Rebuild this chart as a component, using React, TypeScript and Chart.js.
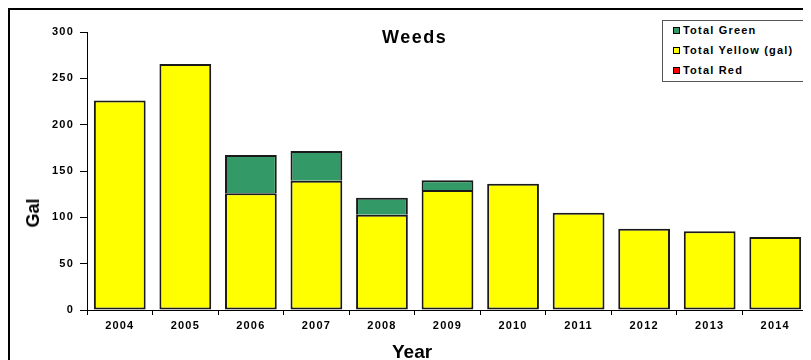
import React, { useEffect, useRef } from "react";
import { Chart, registerables } from "chart.js";

Chart.register(...registerables);

const years = ["2004", "2005", "2006", "2007", "2008", "2009", "2010", "2011", "2012", "2013", "2014"];
const totalYellow = [226, 265.5, 126, 139.5, 102.8, 129.5, 136.3, 105, 87.7, 84.9, 78.8];
const totalGreen: (number | null)[] = [null, null, 41.4, 32.1, 18.4, 10.5, null, null, null, null, null];
const totalRed: (number | null)[] = [null, null, null, null, null, null, null, null, null, null, null];
const yMin = 0;
const yMax = 300;
const yStep = 50;

const FONT = "'Liberation Sans', Arial, sans-serif";
const GREEN = "#339966";
const YELLOW = "#FFFF00";
const RED = "#FF0000";
const EDGE = "#1a1a1a";

const spacingPlugin = {
  id: "spacing",
  beforeDraw(chart: any) {
    (chart.ctx as any).letterSpacing = "1.2px";
  },
};

export default function App() {
  const ref = useRef<HTMLCanvasElement | null>(null);

  useEffect(() => {
    if (!ref.current) return;
    const chart = new Chart(ref.current, {
      type: "bar",
      data: {
        labels: years,
        datasets: [
          {
            label: "Total Yellow (gal)",
            data: totalYellow,
            backgroundColor: YELLOW,
            borderColor: EDGE,
            borderWidth: 2,
            borderSkipped: false,
            stack: "s",
            barPercentage: 0.79,
            categoryPercentage: 1,
          },
          {
            label: "Total Green",
            data: totalGreen,
            backgroundColor: GREEN,
            borderColor: EDGE,
            borderWidth: 2,
            borderSkipped: "bottom",
            stack: "s",
            barPercentage: 0.79,
            categoryPercentage: 1,
          },
          {
            label: "Total Red",
            data: totalRed,
            backgroundColor: RED,
            borderColor: EDGE,
            borderWidth: 0,
            stack: "s",
            barPercentage: 0.79,
            categoryPercentage: 1,
          },
        ],
      },
      options: {
        animation: false,
        responsive: false,
        devicePixelRatio: 1,
        layout: { padding: { left: 0, top: 24, right: 3, bottom: 0 } },
        plugins: {
          legend: { display: false },
          tooltip: { enabled: false },
          title: { display: false },
        },
        scales: {
          x: {
            stacked: true,
            offset: true,
            grid: {
              offset: true,
              drawOnChartArea: false,
              drawTicks: true,
              tickLength: 5,
              color: "#000",
              lineWidth: 1,
            },
            border: { display: true, color: "#000", width: 1 },
            ticks: {
              color: "#000",
              font: { family: FONT, size: 11, weight: "bold" },
              padding: 4,
              maxRotation: 0,
              autoSkip: false,
            },
            afterFit: (s: any) => {
              s.height = 50;
            },
          },
          y: {
            stacked: true,
            min: yMin,
            max: yMax,
            ticks: {
              stepSize: yStep,
              color: "#000",
              font: { family: FONT, size: 11, weight: "bold" },
              padding: 6,
            },
            grid: {
              drawOnChartArea: false,
              drawTicks: true,
              tickLength: 7,
              color: "#000",
              lineWidth: 1,
            },
            border: { display: true, color: "#000", width: 1 },
            afterFit: (s: any) => {
              s.width = 79;
            },
          },
        },
      } as any,
      plugins: [spacingPlugin],
    });
    return () => chart.destroy();
  }, []);

  const legendItems = [
    { label: "Total Green", color: GREEN },
    { label: "Total Yellow (gal)", color: YELLOW },
    { label: "Total Red", color: RED },
  ];

  return (
    <div style={{ position: "relative", width: 803, height: 352, overflow: "hidden", fontFamily: FONT }}>
      <div
        style={{
          position: "absolute",
          left: 0,
          top: 0,
          width: 830,
          height: 380,
          borderLeft: "2px solid #000",
          borderTop: "2px solid #000",
          boxSizing: "border-box",
        }}
      />
      <canvas ref={ref} width={803} height={352} style={{ position: "absolute", left: 0, top: 0, width: 803, height: 352 }} />
      <div
        style={{
          position: "absolute",
          left: 374,
          top: 20,
          fontSize: 18,
          lineHeight: "18px",
          fontWeight: "bold",
          letterSpacing: "1.5px",
          whiteSpace: "nowrap",
          color: "#000",
        }}
      >
        Weeds
      </div>
      <div
        style={{
          position: "absolute",
          left: 384,
          top: 334,
          fontSize: 19,
          lineHeight: "19px",
          fontWeight: "bold",
          whiteSpace: "nowrap",
          color: "#000",
        }}
      >
        Year
      </div>
      <div
        style={{
          position: "absolute",
          left: 24.5,
          top: 204.5,
          fontSize: 18,
          lineHeight: "18px",
          fontWeight: "bold",
          whiteSpace: "nowrap",
          color: "#000",
          transform: "translate(-50%, -50%) rotate(-90deg)",
        }}
      >
        Gal
      </div>
      <div
        style={{
          position: "absolute",
          left: 654,
          top: 12,
          width: 146,
          height: 62,
          border: "1px solid #555",
          boxSizing: "border-box",
          background: "#fff",
        }}
      >
        {legendItems.map((it, i) => (
          <React.Fragment key={it.label}>
            <div
              style={{
                position: "absolute",
                left: 10,
                top: 6 + i * 20,
                width: 7,
                height: 7,
                background: it.color,
                border: "1px solid #000",
                boxSizing: "border-box",
              }}
            />
            <div
              style={{
                position: "absolute",
                left: 20,
                top: 4 + i * 20,
                fontSize: 11,
                lineHeight: "11px",
                fontWeight: "bold",
                letterSpacing: "1.2px",
                whiteSpace: "nowrap",
                color: "#000",
              }}
            >
              {it.label}
            </div>
          </React.Fragment>
        ))}
      </div>
    </div>
  );
}
